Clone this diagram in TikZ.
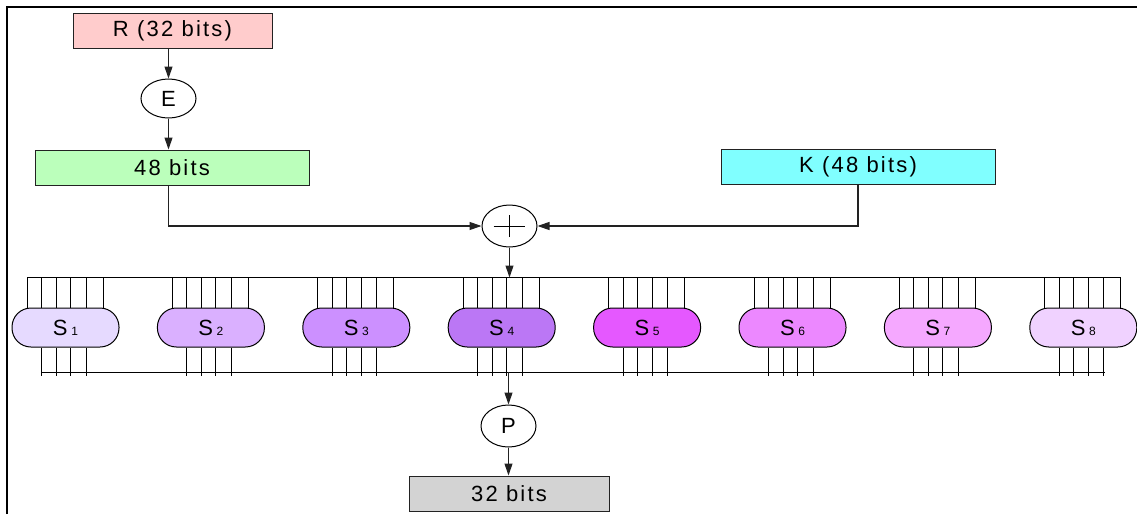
\documentclass[tikz,border=0pt]{standalone}
\usepackage{fontspec}
\setmainfont{Liberation Sans}[LetterSpace=10]
\usetikzlibrary{shapes.geometric,arrows.meta}
\definecolor{cR}{HTML}{FFCCCC}
\definecolor{cG}{HTML}{BBFFBB}
\definecolor{cK}{HTML}{80FFFF}
\definecolor{cO}{HTML}{D3D3D3}
\definecolor{sa}{HTML}{E6DAFF}
\definecolor{sb}{HTML}{DAB0FF}
\definecolor{sc}{HTML}{CC90FF}
\definecolor{sd}{HTML}{BB77F5}
\definecolor{se}{HTML}{E558FF}
\definecolor{sf}{HTML}{EC88FF}
\definecolor{sg}{HTML}{F5A8FF}
\definecolor{sh}{HTML}{F0D2FF}
\definecolor{ln}{HTML}{222222}
\tikzset{
  box/.style={draw=ln, line width=1pt, rectangle, minimum height=35pt, inner sep=0pt, font=\fontsize{22pt}{24pt}\selectfont},
  oval/.style={draw=black, line width=1pt, ellipse, minimum width=55pt, minimum height=40pt, inner sep=0pt, font=\fontsize{22pt}{24pt}\selectfont},
  sbox/.style={draw=black, line width=1pt, rectangle, rounded corners=19pt, minimum width=107pt, minimum height=39pt, inner sep=0pt, font=\fontsize{22pt}{24pt}\selectfont},
  wire/.style={draw=ln, line width=1.1pt},
  arr/.style={wire, -{Triangle[length=12pt,width=8pt]}},
  frame/.style={draw=black, line width=1.5pt}
}
\begin{document}
\begin{tikzpicture}[x=1pt,y=-1pt]
\useasboundingbox (0,0) rectangle (1137,514);
\draw[frame] (7,514) -- (7,7) -- (1137,7);
\node[box, fill=cR, minimum width=199pt] (R) at (172.5,30.5) {R (32 bits)};
\node[oval, minimum height=39pt] (E) at (168.5,98.5) {E};
\node[box, fill=cG, minimum width=274pt] (G) at (172,167.5) {48 bits};
\node[box, fill=cK, minimum width=274pt] (K) at (858,166.5) {K (48 bits)};
\node[oval, minimum height=42pt] (X) at (509.5,226) {};
\draw[line width=1pt] ([xshift=-16pt]X.center) -- ([xshift=15pt]X.center);
\draw[line width=1pt] ([yshift=-11pt]X.center) -- ([yshift=11pt]X.center);
\node[oval, minimum height=42pt] (P) at (508.5,426) {P};
\node[box, fill=cO, minimum width=200pt] (O) at (509,493.5) {32 bits};
\draw[arr] (R.south -| E.north) -- (E.north);
\draw[arr] (E.south) -- (E.south |- G.north);
\draw[arr] (G.south -| E.south) |- (X.west);
\draw[arr] (K.south) |- (X.east);
\coordinate (bt) at (27,277.5);
\coordinate (btr) at (1121,277.5);
\coordinate (bb) at (42,372);
\coordinate (bbr) at (1105,372);
\draw[line width=1pt] (bt) -- (btr);
\draw[line width=1pt] (bb) -- (bbr);
\draw[arr] (X.south) -- (X.south |- bt);
\foreach \i/\c [count=\n from 0] in {1/sa,2/sb,3/sc,4/sd,5/se,6/sf,7/sg,8/sh}{
  \node[sbox, fill=\c] (S\i) at (65.5+145.4*\n,327.5) {S\,{\fontsize{12pt}{13pt}\selectfont\i}};
  \foreach \d in {-38.5,-24,-9.5,5,20.5,37.5}{
    \draw[line width=1pt] ([xshift=\d pt]S\i.north) -- ([xshift=\d pt]S\i.north |- bt);
  }
  \foreach \d in {-24,-9.5,5,20.5}{
    \draw[line width=1pt] ([xshift=\d pt]S\i.south) -- ++(0,28);
  }
}
\draw[arr] (P.north |- bb) -- (P.north);
\draw[arr] (P.south) -- (P.south |- O.north);
\end{tikzpicture}
\end{document}
